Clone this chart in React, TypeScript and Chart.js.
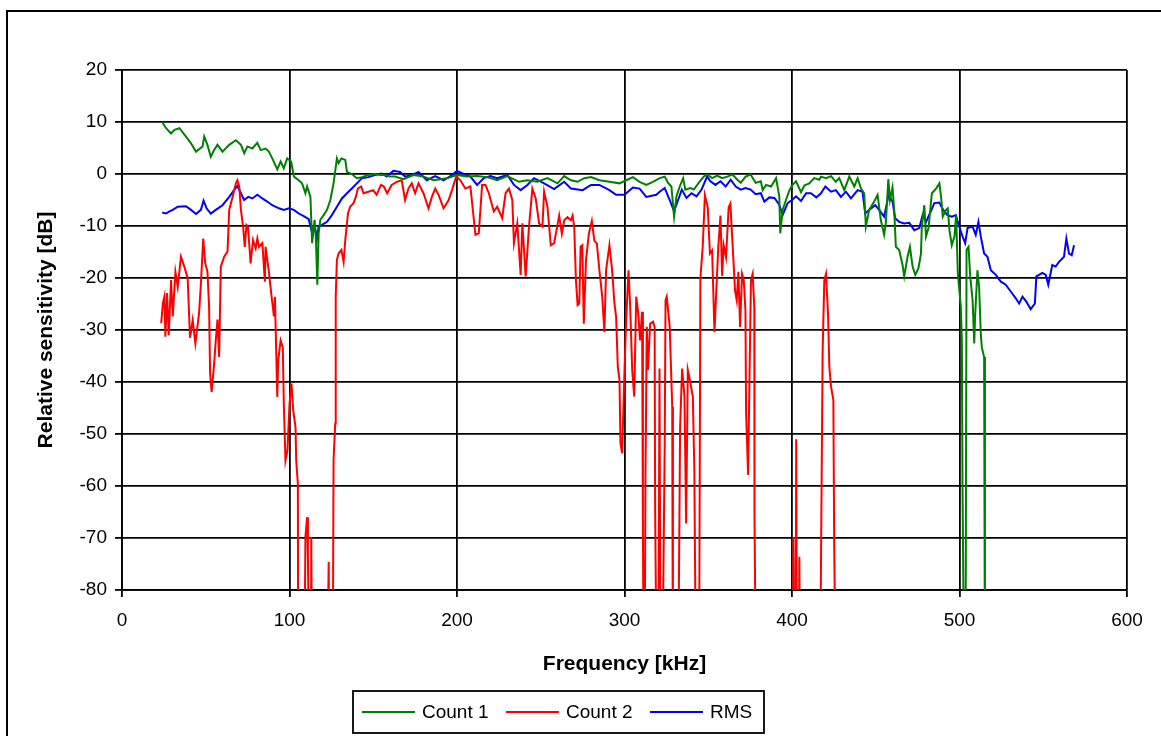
import { useEffect, useRef } from "react";
import { Chart, registerables } from "chart.js";

Chart.register(...registerables);

// ---- Data (values below -80 dB are off-scale and drawn clipped) ----
const seriesLabels = ["Count 1", "Count 2", "RMS"];
const seriesColors = ["#008000", "#FF0000", "#0000FF"];

const count1Freq = [24, 26.3, 29.3, 31.3, 34.3, 38.2, 41, 44.2, 48.1, 49.1, 51, 53, 55, 57, 60, 64, 68, 71, 73, 74.9, 77.8, 80.8, 82.8, 85.7, 87.7, 89.7, 92.7, 94.7, 96.6, 98.6, 101, 102.6, 105.5, 107.5, 109.5, 110.5, 112.5, 113.5, 115, 115.8, 116.6, 117.4, 118.4, 120.4, 122.4, 124.4, 126.3, 128.3, 129.3, 131, 133.3, 134.3, 137.2, 140.2, 143.2, 147, 151, 154.3, 157, 160, 163, 168, 174, 180, 186, 194, 200, 206, 212, 218, 224, 230, 237, 242, 248, 254, 260, 264, 268, 272, 276, 280, 285, 291, 297, 301, 305, 309, 313, 317, 321, 324, 326, 328, 329.6, 331, 333, 335, 336.3, 339.4, 341.4, 344.3, 347.3, 349.3, 352.3, 355.3, 358.3, 361.4, 364.4, 367.4, 369.4, 372.3, 375.3, 378.3, 381.4, 382.5, 384.5, 387.5, 390.5, 392.4, 393, 394.4, 396.4, 398.4, 400, 402.4, 405.4, 407.4, 410.3, 413.3, 416.3, 417.3, 420.3, 423.3, 426.2, 428.2, 431.2, 434.2, 437.2, 439.2, 441.2, 443.1, 444.1, 446.1, 449.1, 451.1, 453, 455, 456, 457.5, 458.5, 460, 461, 462, 464, 466, 467, 469, 470.4, 472, 473.6, 475.5, 477, 477.5, 479, 480, 481.5, 483.5, 486, 488, 489, 490, 492, 493, 494, 495.4, 497, 498, 499, 500.8, 501.4, 501.8, 502.8, 503.6, 504.2, 505.4, 506.4, 507.8, 508.8, 509.3, 510.7, 511.7, 512.7, 513.3, 514.7, 515.2];
const count1Db = [10, 8.8, 7.8, 8.5, 8.8, 7.2, 6, 4.3, 5.3, 7.2, 5.6, 3.3, 4.6, 5.6, 4.3, 5.6, 6.5, 5.6, 4.0, 5.3, 4.9, 6.0, 4.6, 4.9, 4.3, 3.0, 0.9, 2.4, 1.1, 3.0, 2.4, -0.5, -1.2, -1.8, -3.7, -2.4, -4.4, -13.3, -8.8, -12.7, -21.3, -11.4, -8.8, -7.9, -6.9, -5.0, -1.8, 3.0, 2.1, 3.0, 2.7, 0.4, 0, -0.8, -0.6, -0.2, 0, -0.2, -0.2, -0.5, -0.5, -1.0, -0.2, -0.5, -1.2, -0.8, -0.2, -0.5, -0.4, -0.6, -1.2, -0.4, -1.5, -1.2, -1.5, -0.8, -1.8, -0.4, -1.2, -1.5, -0.8, -0.6, -1.2, -1.5, -1.8, -1.2, -0.6, -1.5, -2.1, -1.5, -0.8, -0.5, -1.7, -2.4, -8.2, -4.3, -2.4, -0.8, -3.0, -2.7, -3.0, -1.7, -0.5, -0.1, -0.8, -0.3, -0.8, -0.5, -0.1, -1.1, -1.7, -0.5, -0.1, -1.7, -1.4, -3.1, -2.1, -2.4, -0.8, -4.3, -11.4, -6.9, -5.0, -3.2, -2.2, -1.4, -3.5, -2.2, -1.8, -0.8, -1.1, -0.5, -0.8, -0.4, -1.5, -0.8, -3.1, -0.5, -2.4, -0.8, -2.8, -3.7, -10.1, -6.9, -5.3, -4.0, -8.8, -11.7, -9.5, -1.0, -5.0, -2.6, -6.9, -14, -14.6, -17.5, -19.7, -15.9, -14, -17.8, -19.4, -18.1, -15.3, -10.1, -6.0, -12, -10.4, -3.7, -2.8, -1.8, -4.4, -8.2, -6.9, -6.6, -10.8, -13.7, -12, -7.9, -19.1, -25.5, -32, -59.6, -100, -100, -14.6, -14, -19.7, -24.2, -32.6, -27.5, -18.5, -21.7, -30.6, -33.3, -35.2, -100];

const count2Freq = [23.4, 24.4, 25.3, 25.9, 26.9, 27.9, 29.3, 30.3, 31.9, 33.3, 35.2, 37.2, 39.2, 40.6, 42.2, 43.8, 46, 47, 48.5, 49.7, 51, 52, 52.6, 53.5, 55, 56, 57, 58, 59, 61, 63, 64, 66, 68, 68.9, 70, 71, 72.3, 73.3, 74.3, 75.2, 76.8, 78.2, 79.8, 80.8, 81.8, 83.8, 85.3, 85.7, 87.7, 89.3, 90.7, 91.3, 92.7, 93.3, 94.7, 96, 96.6, 97.6, 98.8, 100, 101.2, 102.2, 103.6, 104, 105, 105.2, 108.8, 109.5, 110.5, 111, 112, 112.8, 113, 113.5, 122.4, 123.4, 123.8, 125.8, 126.3, 127.3, 127.6, 128.3, 129.3, 131, 132.3, 133.3, 134.9, 136.2, 138.2, 139.6, 140.8, 142.8, 144.2, 147.1, 150, 152, 154.6, 156.3, 158.3, 161, 164, 167, 169, 171, 173, 175, 177, 180, 183, 185, 187, 189, 192, 195, 197, 199.6, 202, 205, 208, 211, 213, 215, 217, 219, 222, 224, 227, 229, 231, 233, 234, 236, 238, 239, 241, 243, 245, 247, 249, 251, 252, 254, 256, 258, 261, 262.6, 264, 266, 268, 269, 270, 271, 272, 273, 273.8, 274.8, 275.7, 277, 278.7, 280.5, 282, 283.5, 285, 286.7, 288, 289, 291, 292.6, 294, 295, 296, 297, 297.6, 298.6, 300, 301, 302.4, 303.4, 304.6, 305.8, 307, 308.2, 309.3, 310.5, 311, 311.5, 312, 312.5, 313.3, 314, 315.3, 317, 318, 318.3, 319.3, 320.2, 320.9, 321.5, 322.5, 324, 324.5, 325.2, 327, 328.5, 328.9, 332, 333.2, 334.4, 335.8, 336.8, 337.8, 339, 340.8, 341.7, 342.7, 344.5, 345.3, 346.7, 348, 349.7, 351, 352.3, 353, 353.7, 354.7, 356, 357.3, 358.3, 359.2, 360.6, 362.2, 363.2, 364.6, 366, 367, 368, 369, 370.2, 371.2, 372.2, 372.6, 373.8, 374.6, 375.5, 376.5, 377.5, 377.6, 378.5, 400.3, 400.9, 401.6, 402.2, 402.5, 403, 404, 404.4, 404.8, 416.7, 418.3, 419.3, 420.3, 421.5, 422.3, 423.3, 424.7, 425.2, 426.2];
const count2Db = [-28.7, -24.9, -23.6, -31.3, -22.9, -31, -20.4, -27.4, -18.8, -21.7, -15.9, -17.8, -20.1, -31.5, -28.1, -32.6, -26.8, -21.7, -12.4, -17.2, -18.8, -25.5, -38.4, -41.9, -36.5, -32, -28, -35.2, -17.8, -15.9, -14.9, -6.9, -4.4, -1.8, -1.2, -2.4, -6.9, -10.1, -14, -9.8, -10.1, -17.2, -12.7, -14.3, -12.4, -14, -13.3, -20.7, -14, -18.8, -23.6, -27.4, -23.6, -42.9, -35.8, -32, -33.3, -44.2, -55.1, -53.1, -44.2, -40.3, -45.4, -48.7, -55.1, -59.6, -100, -100, -69.8, -66, -73.7, -100, -100, -69.8, -100, -100, -74.6, -100, -100, -55, -48, -23.6, -16.5, -15.3, -14.6, -16.9, -12.7, -7.6, -6.3, -5.6, -4.4, -2.8, -2.4, -3.7, -3.4, -3.1, -4.0, -2.1, -2.4, -3.7, -2.1, -1.5, -1.2, -5.0, -2.8, -1.8, -3.7, -1.8, -3.7, -6.6, -4.4, -2.8, -4.0, -6.6, -5.0, -3.1, -0.4, -1.2, -2.8, -2.4, -11.7, -11.4, -2.1, -2.1, -3.7, -7.2, -6.3, -8.5, -3.7, -2.8, -5.0, -13.3, -9.5, -19.4, -9.5, -19.7, -10.1, -2.8, -4.7, -9.5, -10.1, -3.4, -6.3, -13.7, -13.3, -8, -11.5, -8.9, -8.3, -8.9, -8, -10.2, -20.4, -25.2, -24.9, -14, -13.7, -28.8, -16.6, -11.5, -9, -12.8, -13.4, -18.5, -23.6, -30.4, -18.5, -13.7, -18.5, -24.9, -27.5, -37.1, -39.6, -51.8, -53.7, -37.7, -28.1, -18.5, -25.6, -37.7, -42.8, -23.6, -26.8, -32, -26.5, -68.5, -100, -100, -58.8, -29.4, -37.7, -28.8, -28.4, -29.4, -65.2, -100, -100, -37.4, -100, -100, -52.4, -24.3, -23.6, -29.4, -44.8, -100, -100, -48.6, -37.4, -42.8, -67.2, -37.7, -39.6, -42.8, -56.9, -100, -100, -20.1, -14, -4.1, -6.4, -15.3, -14.7, -22.4, -30.4, -23.3, -14, -8, -19.6, -13.7, -16, -6.4, -5.7, -14, -22.4, -24.3, -18.8, -29.4, -19.2, -20.4, -26.2, -46, -57.9, -39.6, -20.4, -19.2, -25.6, -65, -100, -100, -69.8, -100, -100, -51, -100, -100, -73.6, -100, -100, -33.9, -20.4, -19.2, -26.8, -37.1, -40.9, -43.5, -71.6, -100];

const rmsFreq = [24, 26.3, 28.3, 30.3, 33.3, 38.2, 41.2, 44.2, 47.1, 48.7, 50.5, 53, 56, 60, 64, 66.9, 68.9, 71, 72.9, 75.4, 77.8, 80.8, 83.8, 86.7, 89.7, 93.7, 96.6, 99.6, 102.6, 105.5, 108.5, 111.5, 113.1, 115, 116.4, 117.4, 119.4, 122.4, 125.3, 128.3, 131.3, 134.3, 137.2, 140.2, 143.2, 147.1, 151, 155, 158, 162, 166, 169, 173, 177, 182, 187, 192, 197, 200, 204, 208, 212, 216, 220, 224, 230, 234, 238, 242, 246, 252, 258, 264, 268, 275, 280, 285, 291, 295, 300, 305, 309, 313, 319, 321, 324, 327, 329.6, 332, 334.2, 337, 340, 343, 346, 349.3, 351.3, 354.3, 357.3, 360.4, 363.4, 366.4, 369.4, 372.3, 375.3, 378.3, 381.4, 383.5, 386.5, 389.5, 392.4, 394.4, 397.4, 400, 402.4, 405.4, 408.4, 411.3, 414.5, 417.3, 419.9, 423.3, 426.2, 429.2, 432.2, 435.2, 439.2, 442.1, 443.7, 446.1, 449.7, 452, 455, 457.7, 460, 461.6, 464, 467, 470, 473, 476, 478, 480, 482.3, 485, 487.9, 490.3, 492.8, 495.4, 497.8, 499.8, 501.8, 503.4, 504.8, 507.8, 509.7, 511.3, 512.7, 514.7, 516.7, 518.7, 521.7, 524.7, 527.6, 530.6, 533.6, 535.6, 537.6, 540, 542.5, 545, 545.9, 549.5, 551.5, 553, 555.4, 557.4, 559.4, 562.4, 563.8, 565.4, 567, 568.4];
const rmsDb = [-7.4, -7.6, -7.2, -6.9, -6.3, -6.2, -6.9, -7.7, -6.9, -5.1, -6.6, -7.6, -6.9, -6.0, -4.4, -3.1, -2.3, -3.7, -5.0, -4.4, -4.7, -4.0, -4.7, -5.3, -6.0, -6.6, -6.9, -6.6, -6.9, -7.6, -8.1, -8.7, -10.8, -10, -12.4, -10.1, -9.8, -9.2, -7.9, -6.3, -4.7, -3.7, -2.8, -1.8, -0.8, -0.6, -0.2, 0.1, -0.5, 0.6, 0.4, -0.5, -0.2, 0.4, -1.2, -0.4, -1.2, -0.2, 0.6, 0, -0.5, -2.1, -0.8, -0.4, -0.8, -0.2, -2.1, -3.1, -2.1, -0.8, -1.8, -2.9, -1.5, -2.8, -3.1, -2.1, -2.1, -3.1, -4.0, -4.0, -2.6, -2.8, -4.4, -4.0, -3.4, -2.7, -5.0, -7.2, -5.0, -3.0, -4.6, -3.7, -4.3, -3.0, -0.5, -1.4, -2.1, -1.4, -2.4, -1.1, -2.4, -3.0, -2.7, -3.0, -3.9, -3.7, -5.3, -4.5, -4.6, -5.9, -7.9, -5.6, -5.0, -4.3, -5.2, -3.7, -3.7, -4.5, -3.7, -2.4, -3.4, -3.1, -4.4, -3.4, -4.7, -3.1, -3.4, -7.6, -6.9, -6.0, -6.9, -8.2, -4.0, -5.3, -8.5, -9.2, -9.5, -9.4, -10.8, -10.4, -7.9, -9.2, -7.6, -5.6, -5.5, -6.9, -7.9, -8.2, -7.9, -10.1, -12, -13.3, -10.4, -10.1, -11.7, -9.2, -12, -15.3, -15.9, -18.5, -19.4, -20.7, -21.3, -22.6, -23.9, -24.9, -23.6, -24.6, -26, -24.9, -19.7, -19, -19.4, -21.3, -17.5, -17.8, -16.9, -15.9, -12.4, -15.3, -15.6, -13.7];

const FONT = '"Liberation Sans", Arial, Helvetica, sans-serif';

const toPoints = (xs: number[], ys: number[]) => xs.map((x, i) => ({ x, y: ys[i] }));

const framePlugin = {
  id: "frameAndLegend",
  afterDraw(chart: any) {
    const ctx: CanvasRenderingContext2D = chart.ctx;
    ctx.save();
    // outer chart border
    ctx.strokeStyle = "#000";
    ctx.lineWidth = 2;
    ctx.strokeRect(7, 11, 1400, 1000);
    // legend box
    const bx = 353, by = 691, bw = 411, bh = 42;
    ctx.lineWidth = 1.8;
    ctx.strokeRect(bx, by, bw, bh);
    const starts = [362, 506, 650];
    const cy = by + bh / 2;
    ctx.font = `19px ${FONT}`;
    ctx.textBaseline = "middle";
    ctx.textAlign = "left";
    chart.data.datasets.forEach((ds: any, i: number) => {
      ctx.strokeStyle = ds.borderColor;
      ctx.lineWidth = 2;
      ctx.beginPath();
      ctx.moveTo(starts[i], cy);
      ctx.lineTo(starts[i] + 53, cy);
      ctx.stroke();
      ctx.fillStyle = "#000";
      ctx.fillText(ds.label, starts[i] + 60, cy + 1);
    });
    ctx.restore();
  },
};

export default function App() {
  const ref = useRef<HTMLCanvasElement | null>(null);

  useEffect(() => {
    document.body.style.margin = "0";
    const canvas = ref.current;
    if (!canvas) return;
    const series = [
      toPoints(count1Freq, count1Db),
      toPoints(count2Freq, count2Db),
      toPoints(rmsFreq, rmsDb),
    ];
    const chart = new Chart(canvas, {
      type: "line",
      data: {
        datasets: series.map((data, i) => ({
          label: seriesLabels[i],
          data,
          borderColor: seriesColors[i],
          backgroundColor: seriesColors[i],
          borderWidth: 2,
          pointRadius: 0,
          tension: 0,
          fill: false,
        })),
      },
      options: {
        animation: false,
        responsive: false,
        events: [],
        layout: { padding: { top: 70, right: 34, bottom: 0, left: 0 } },
        plugins: {
          legend: { display: false },
          tooltip: { enabled: false },
        },
        scales: {
          x: {
            type: "linear",
            min: 0,
            max: 600,
            ticks: { stepSize: 100, color: "#000", font: { family: FONT, size: 19 }, padding: 12, maxRotation: 0 },
            grid: { color: "#000", lineWidth: 1.8, tickLength: 7 },
            border: { color: "#000", width: 1.8 },
            title: {
              display: true,
              text: "Frequency [kHz]",
              color: "#000",
              font: { family: FONT, size: 21, weight: "bold" },
              padding: { top: 0, bottom: 59 },
            },
            afterFit: (s: any) => { s.height = 146; },
          },
          y: {
            type: "linear",
            min: -80,
            max: 20,
            ticks: { stepSize: 10, color: "#000", font: { family: FONT, size: 19 }, padding: 8 },
            grid: { color: "#000", lineWidth: 1.8, tickLength: 7 },
            border: { color: "#000", width: 1.8 },
            title: {
              display: true,
              text: "Relative sensitivity [dB]",
              color: "#000",
              font: { family: FONT, size: 21, weight: "bold" },
              padding: { top: 34, bottom: 0 },
            },
            afterFit: (s: any) => { s.width = 122; },
          },
        },
      },
      plugins: [framePlugin],
    });
    return () => chart.destroy();
  }, []);

  return (
    <div style={{ width: 1161, height: 736, overflow: "hidden", background: "#fff" }}>
      <canvas ref={ref} width={1161} height={736} style={{ display: "block", width: 1161, height: 736 }} />
    </div>
  );
}
